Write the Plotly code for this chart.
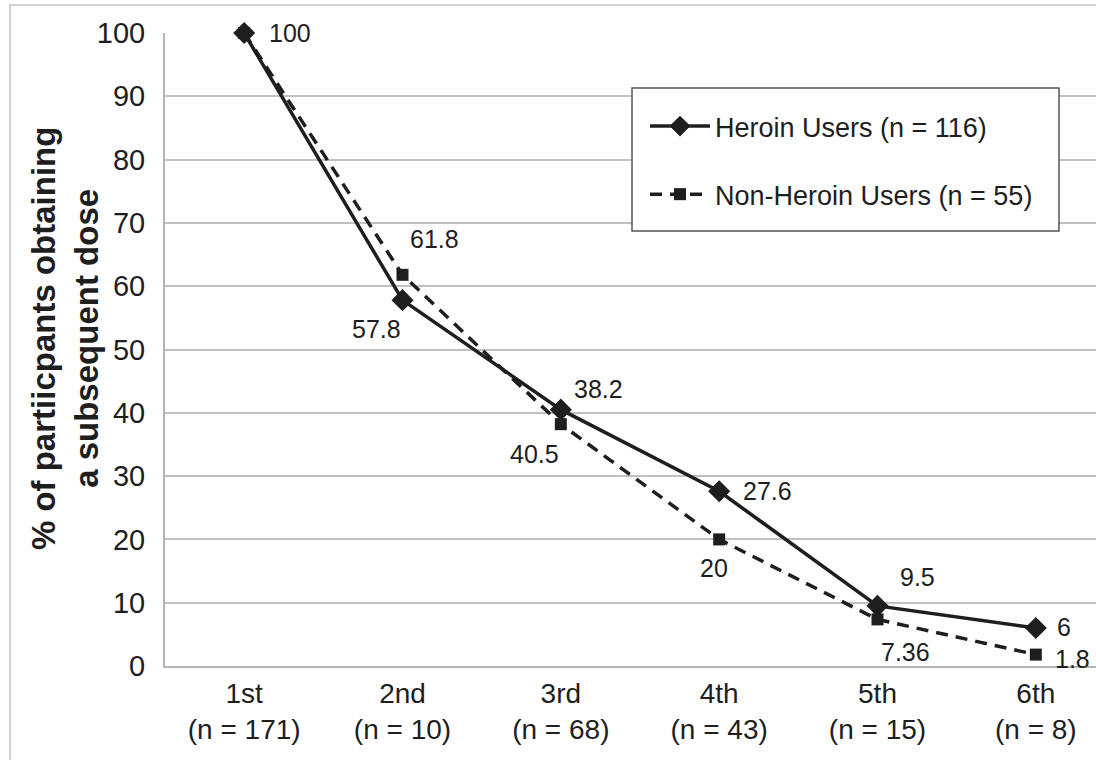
import plotly.graph_objects as go

# ---- data ----
categories = ["1st", "2nd", "3rd", "4th", "5th", "6th"]
n_values = [171, 10, 68, 43, 15, 8]
heroin = [100, 57.8, 40.5, 27.6, 9.5, 6]
non_heroin = [100, 61.8, 38.2, 20, 7.36, 1.8]
heroin_labels = ["100", "57.8", "38.2", "27.6", "9.5", "6"]
non_heroin_labels = [None, "61.8", "40.5", "20", "7.36", "1.8"]
heroin_name = "Heroin Users (n = 116)"
non_heroin_name = "Non-Heroin Users (n = 55)"
y_ticks = [0, 10, 20, 30, 40, 50, 60, 70, 80, 90, 100]

# ---- label offsets (pixels) ----
heroin_offsets = [(46, 0), (-26, -29), (38, 21), (48, 0), (40, 29), (28, 1)]
non_heroin_offsets = [None, (32, 36), (-26, -30), (-5, -29), (28, -33), (37, -4)]

FONT = "Liberation Sans, Arial, Helvetica, sans-serif"
INK = "#1e1e1e"
xs = list(range(len(categories)))
tick_text = [f"{c}<br>(n = {n})" for c, n in zip(categories, n_values)]

fig = go.Figure()
fig.add_trace(go.Scatter(
    x=xs, y=heroin, name=heroin_name, mode="lines+markers",
    line=dict(color=INK, width=3.5),
    marker=dict(symbol="diamond", size=17, color=INK),
    legendgroup="a", cliponaxis=False,
))
fig.add_trace(go.Scatter(
    x=xs, y=non_heroin, name=non_heroin_name, mode="lines+markers",
    line=dict(color=INK, width=3.5, dash="12px,8px"),
    marker=dict(symbol="square", size=12, color=INK),
    legendgroup="b", cliponaxis=False,
))

LABEL_SIZE = 25
annotations = []
for x, y, t, off in zip(xs, heroin, heroin_labels, heroin_offsets):
    if t is None:
        continue
    annotations.append(dict(x=x, y=y, text=t, showarrow=False, xshift=off[0], yshift=off[1],
                            font=dict(size=LABEL_SIZE, color=INK, family=FONT)))
for x, y, t, off in zip(xs, non_heroin, non_heroin_labels, non_heroin_offsets):
    if t is None:
        continue
    annotations.append(dict(x=x, y=y, text=t, showarrow=False, xshift=off[0], yshift=off[1],
                            font=dict(size=LABEL_SIZE, color=INK, family=FONT)))

# y axis title
annotations.append(dict(
    x=-0.1074, y=0.518, xref="paper", yref="paper", textangle=-90,
    text="<b>% of partiicpants obtaining<br>a subsequent dose</b>", showarrow=False,
    xanchor="center", yanchor="middle",
    font=dict(size=33, color=INK, family=FONT),
))

W, H = 1096, 760
L, T, B, R = 165, 33, 94, 0
pw, ph = W - L - R, H - T - B

def px(xp):
    return (xp - L) / pw

def py(yp):
    return (H - B - yp) / ph

shapes = [
    # outer frame
    dict(type="rect", xref="paper", yref="paper", x0=px(10), x1=px(1110), y0=py(775), y1=py(5),
         line=dict(color="#c4c4c4", width=1.5), fillcolor="rgba(0,0,0,0)", layer="below"),
    # legend box
    dict(type="rect", xref="paper", yref="paper", x0=px(632), x1=px(1059), y0=py(231), y1=py(88),
         line=dict(color="#555555", width=1.5), fillcolor="white", layer="above"),
]

fig.update_layout(
    width=W, height=H,
    margin=dict(l=L, r=R, t=T, b=B, pad=0),
    paper_bgcolor="white", plot_bgcolor="white",
    font=dict(family=FONT, color=INK, size=24),
    showlegend=True,
    legend=dict(
        x=px(645), y=py(102), xanchor="left", yanchor="top",
        bgcolor="rgba(0,0,0,0)", borderwidth=0,
        font=dict(size=27, family=FONT, color=INK),
        traceorder="grouped", tracegroupgap=30, itemwidth=60,
    ),
    annotations=annotations,
    shapes=shapes,
    xaxis=dict(
        range=[-0.5, 5.38], tickmode="array", tickvals=xs, ticktext=tick_text,
        showgrid=False, zeroline=False, showline=True, linecolor="#b5b5b5", linewidth=2,
        ticks="", tickfont=dict(size=28, family=FONT, color=INK), ticklabelstandoff=1,
    ),
    yaxis=dict(
        range=[0, 100], tickmode="array", tickvals=y_ticks,
        showgrid=True, gridcolor="#c0c0c0", gridwidth=1.5,
        zeroline=False, showline=True, linecolor="#b5b5b5", linewidth=2,
        ticks="", tickfont=dict(size=29, family=FONT, color=INK), ticklabelstandoff=12,
    ),
)

fig.write_html(
    "out.html",
    config={"displayModeBar": False},
    post_script="document.body.style.margin='0';document.body.style.overflow='hidden';",
)
